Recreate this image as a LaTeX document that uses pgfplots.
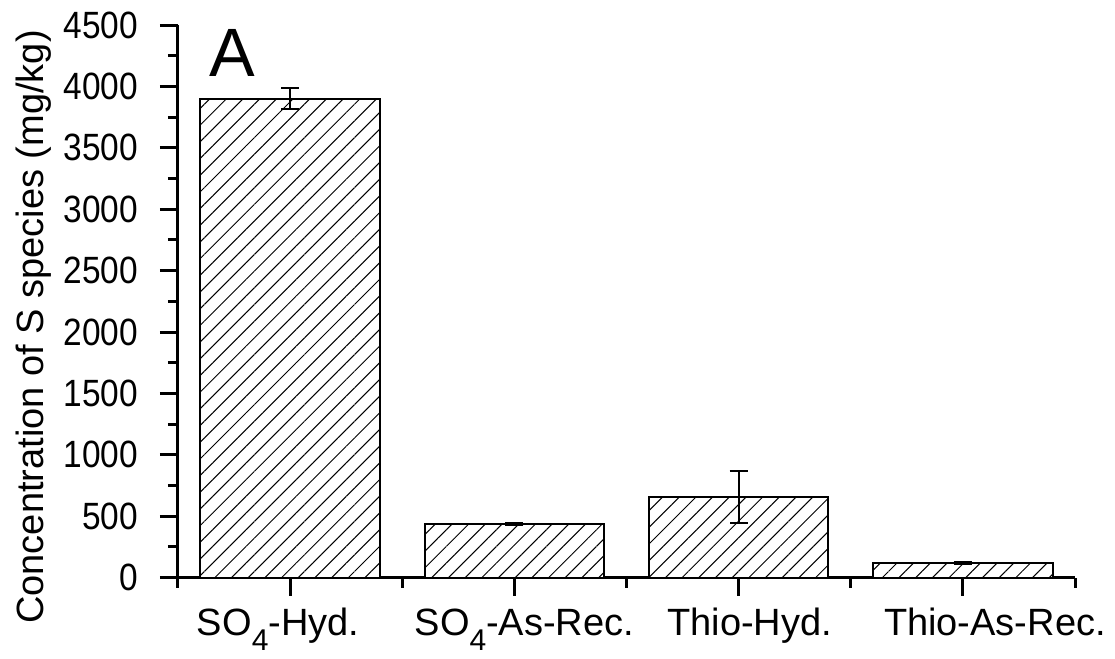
\documentclass[border=0pt]{standalone}
\usepackage{fontspec}
\setmainfont{Liberation Sans}
\usepackage{graphicx}
\usepackage{pgfplots}
\pgfplotsset{compat=1.18}
\usetikzlibrary{patterns.meta}
\newcommand{\sh}[2]{\makebox[0pt]{\kern#1 #2}}
\newcommand{\sub}[1]{{\fontsize{15}{15}\selectfont\raisebox{-7.5pt}{#1}}}
\begin{document}
\begin{tikzpicture}
\begin{axis}[
  scale only axis,
  width=448.5pt, height=276.35pt,
  xmin=-0.5, xmax=3.5, ymin=0, ymax=4500,
  axis x line=bottom, axis y line=left,
  axis line style={-, line width=1.5pt},
  every tick/.style={line width=1.5pt, black},
  tick align=outside,
  major tick length=9pt, minor tick length=5pt,
  xtick={0,1,2,3},
  minor xtick={-0.5,0.5,1.5,2.5,3.5},
  xticklabels={\sh{-12pt}{SO\sub{4}-Hyd.},\sh{10pt}{SO\sub{4}-As-Rec.},\sh{11pt}{Thio-Hyd.},\sh{32pt}{Thio-As-Rec.}},
  ytick={0,500,...,4500},
  minor ytick={250,750,...,4250},
  yticklabel={\scalebox{0.88}[1]{\pgfmathprintnumber[assume math mode=true,1000 sep={}]{\tick}}},
  yticklabel style={font=\fontsize{19}{19}\selectfont, xshift=-7.5pt},
  xticklabel style={font=\fontsize{19}{19}\selectfont, anchor=base, yshift=-20pt},
  ylabel={Concentration of S species (mg/kg)},
  ylabel style={font=\fontsize{19}{19}\selectfont, at={(axis description cs:-0.1494,0.4536)}, anchor=base, rotate=0},
  clip=false,
]
\addplot[ybar, bar width=0.8, fill=white, draw=black, line width=1pt,
  postaction={pattern={Lines[angle=45,distance=5.9pt,line width=0.5pt]}},
  error bars/.cd, y dir=both, y explicit,
  error bar style={line width=1pt, black},
  error mark options={rotate=90, mark size=4.5pt, line width=1pt, black}]
coordinates {
  (0,3900) +- (0,85)
  (1,438) +- (0,8)
  (2,655) +- (0,211)
  (3,120) +- (0,5)
};
\node[anchor=base west, inner sep=0pt, font=\fontsize{34.2}{34.2}\selectfont] at (rel axis cs:0.0346,0.906) {A};
\coordinate (O) at (rel axis cs:0,0);
\end{axis}
\pgfresetboundingbox
\path[use as bounding box] (O) ++(-89pt,-40.65pt) rectangle ++(557.5pt,329.5pt);
\end{tikzpicture}
\end{document}
